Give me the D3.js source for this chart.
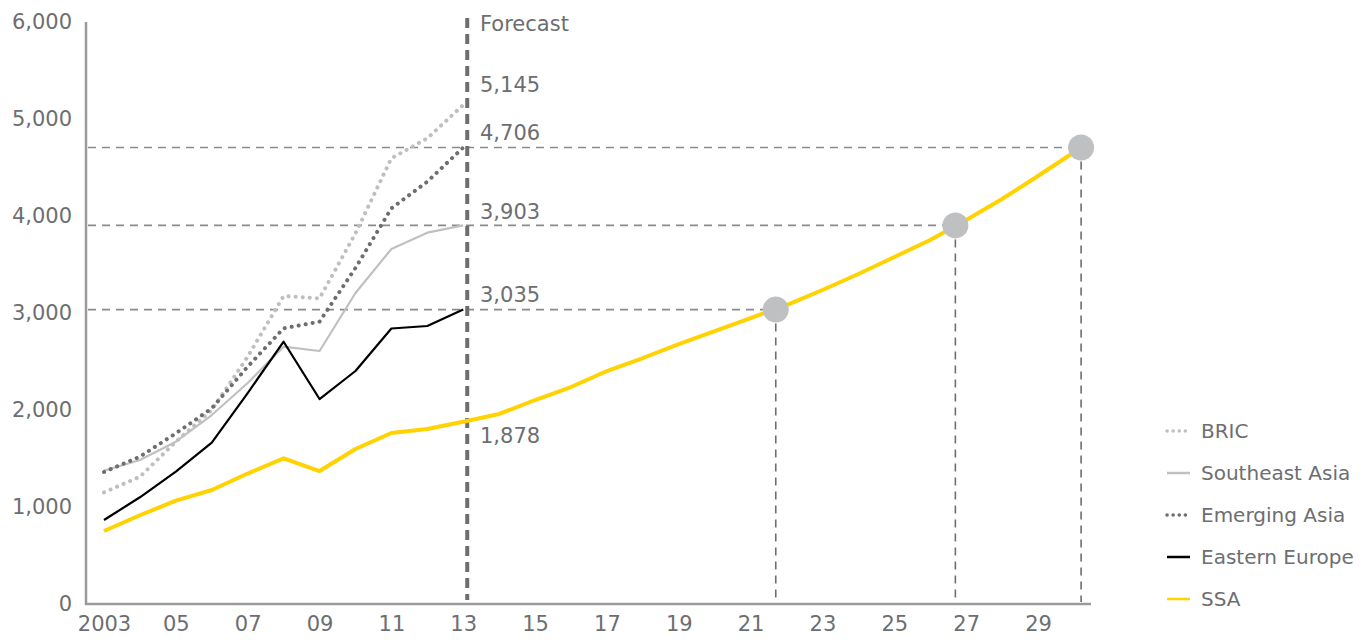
<!DOCTYPE html>
<html>
<head>
<meta charset="utf-8">
<script src="https://cdn.jsdelivr.net/npm/d3@7"></script>
<style>
  body { margin: 0; background: #fff; }
  svg text { font-family: "DejaVu Sans", sans-serif; fill: #6d6e71; }
</style>
</head>
<body>
<svg></svg>
<script>
const width = 1370, height = 641;

// data (GDP per capita-ish, US$)
const histYears = [2003, 2004, 2005, 2006, 2007, 2008, 2009, 2010, 2011, 2012, 2013];
const bric = [1151, 1312, 1673, 2000, 2550, 3175, 3151, 3821, 4595, 4801, 5145];
const southeastAsia = [1374, 1485, 1673, 1948, 2278, 2653, 2608, 3206, 3660, 3828, 3903];
const emergingAsia = [1361, 1519, 1759, 2017, 2447, 2842, 2911, 3464, 4079, 4354, 4706];
const easternEurope = [866, 1100, 1364, 1663, 2175, 2704, 2113, 2402, 2840, 2866, 3035];

const ssaYears = [2003, 2004, 2005, 2006, 2007, 2008, 2009, 2010, 2011, 2012, 2013, 2014, 2015, 2016,
  2017, 2018, 2019, 2020, 2021, 2022, 2023, 2024, 2025, 2026, 2027, 2028, 2029, 2030.2];
const ssa = [753, 915, 1065, 1175, 1345, 1502, 1371, 1598, 1763, 1804, 1878, 1959, 2103, 2237,
  2402, 2536, 2680, 2814, 2948, 3082, 3237, 3402, 3577, 3753, 3959, 4175, 4412, 4706];

// years when SSA reaches the 2013 level of the other regions
const milestoneYears = [2021.7, 2026.7, 2030.2];
const milestoneValues = [3035, 3903, 4706];

const xTicks = [2003, 2005, 2007, 2009, 2011, 2013, 2015, 2017, 2019, 2021, 2023, 2025, 2027, 2029];
const yTicks = [0, 1000, 2000, 3000, 4000, 5000, 6000];

const seriesNames = ["BRIC", "Southeast Asia", "Emerging Asia", "Eastern Europe", "SSA"];

const svg = d3.select("svg").attr("width", width).attr("height", height);

const x = d3.scaleLinear().domain([2003, 2029]).range([104, 1038]);
const y = d3.scaleLinear().domain([0, 6000]).range([604, 22]);

// styles for each series
const styles = {
  "BRIC": { color: "#bfbfbf", width: 4, dash: "0.1,7", cap: "round" },
  "Southeast Asia": { color: "#c0c0c0", width: 2.2, dash: null, cap: "butt" },
  "Emerging Asia": { color: "#6d6e71", width: 4, dash: "0.1,7", cap: "round" },
  "Eastern Europe": { color: "#000000", width: 2.2, dash: null, cap: "butt" },
  "SSA": { color: "#ffd200", width: 4, dash: null, cap: "butt" }
};

// axes (no tick marks, only labels)
const xAxis = d3.axisBottom(x).tickValues(xTicks).tickSize(0).tickPadding(12)
  .tickFormat(d => d === 2003 ? "2003" : String(d).slice(2));
const gx = svg.append("g").attr("transform", "translate(0,604)").call(xAxis);
gx.select(".domain").remove();
gx.selectAll("text").attr("font-size", 21).style("font-family", null);

const yAxis = d3.axisLeft(y).tickValues(yTicks).tickSize(0).tickPadding(14)
  .tickFormat(d3.format(","));
const gy = svg.append("g").attr("transform", "translate(86,0)").call(yAxis);
gy.select(".domain").remove();
gy.selectAll("text").attr("font-size", 21).style("font-family", null);

svg.append("line").attr("x1", 86).attr("x2", 86).attr("y1", 22).attr("y2", 605)
  .attr("stroke", "#9a9a9c").attr("stroke-width", 2.5);
svg.append("line").attr("x1", 85).attr("x2", 1091).attr("y1", 604).attr("y2", 604)
  .attr("stroke", "#9a9a9c").attr("stroke-width", 2.5);

// reference dashed lines
milestoneYears.forEach((yr, i) => {
  svg.append("line")
    .attr("x1", 88).attr("x2", x(yr))
    .attr("y1", y(milestoneValues[i])).attr("y2", y(milestoneValues[i]))
    .attr("stroke", "#8a8a8c").attr("stroke-width", 1.6).attr("stroke-dasharray", "8,6");
  svg.append("line")
    .attr("x1", x(yr)).attr("x2", x(yr))
    .attr("y1", y(milestoneValues[i])).attr("y2", 602)
    .attr("stroke", "#6d6e71").attr("stroke-width", 1.6).attr("stroke-dasharray", "8,6");
});

// forecast divider
svg.append("line").attr("x1", x(2013) + 4).attr("x2", x(2013) + 4)
  .attr("y1", 18).attr("y2", 600)
  .attr("stroke", "#6d6e71").attr("stroke-width", 4).attr("stroke-dasharray", "10,6");

const line = d3.line().x(d => x(d[0])).y(d => y(d[1]));

const seriesData = {
  "BRIC": histYears.map((yr, i) => [yr, bric[i]]),
  "Southeast Asia": histYears.map((yr, i) => [yr, southeastAsia[i]]),
  "Emerging Asia": histYears.map((yr, i) => [yr, emergingAsia[i]]),
  "Eastern Europe": histYears.map((yr, i) => [yr, easternEurope[i]]),
  "SSA": ssaYears.map((yr, i) => [yr, ssa[i]])
};

// draw order: lighter lines first
["Southeast Asia", "BRIC", "Emerging Asia", "Eastern Europe", "SSA"].forEach(name => {
  const s = styles[name];
  svg.append("path")
    .datum(seriesData[name])
    .attr("d", line)
    .attr("fill", "none")
    .attr("stroke", s.color)
    .attr("stroke-width", s.width)
    .attr("stroke-linecap", s.cap)
    .attr("stroke-linejoin", "round")
    .attr("stroke-dasharray", s.dash);
});

// milestone circles
svg.selectAll("circle.milestone")
  .data(milestoneYears)
  .enter().append("circle")
  .attr("class", "milestone")
  .attr("cx", d => x(d))
  .attr("cy", (d, i) => y(milestoneValues[i]))
  .attr("r", 13)
  .attr("fill", "#bfc0c2");

// value labels at 2013
const labelValues = [5145, 4706, 3903, 3035, 1878];
const labelY = [85, 133, 212, 295, 436];
svg.selectAll("text.vlabel")
  .data(labelValues)
  .enter().append("text")
  .attr("class", "vlabel")
  .attr("x", 480)
  .attr("y", (d, i) => labelY[i])
  .attr("dy", "0.35em")
  .attr("font-size", 21)
  .text(d => d3.format(",")(d));

svg.append("text").attr("x", 480).attr("y", 24).attr("dy", "0.35em")
  .attr("font-size", 21).text("Forecast");

// legend
const legend = svg.append("g");
seriesNames.forEach((name, i) => {
  const s = styles[name];
  const ly = 431 + i * 42;
  legend.append("line")
    .attr("x1", 1167).attr("x2", 1190).attr("y1", ly).attr("y2", ly)
    .attr("stroke", s.color)
    .attr("stroke-width", s.dash ? 3.5 : 2.5)
    .attr("stroke-linecap", s.cap)
    .attr("stroke-dasharray", s.dash ? "0.1,6" : null);
  legend.append("text")
    .attr("x", 1201).attr("y", ly).attr("dy", "0.35em")
    .attr("font-size", 20).text(name);
});
</script>
</body>
</html>
